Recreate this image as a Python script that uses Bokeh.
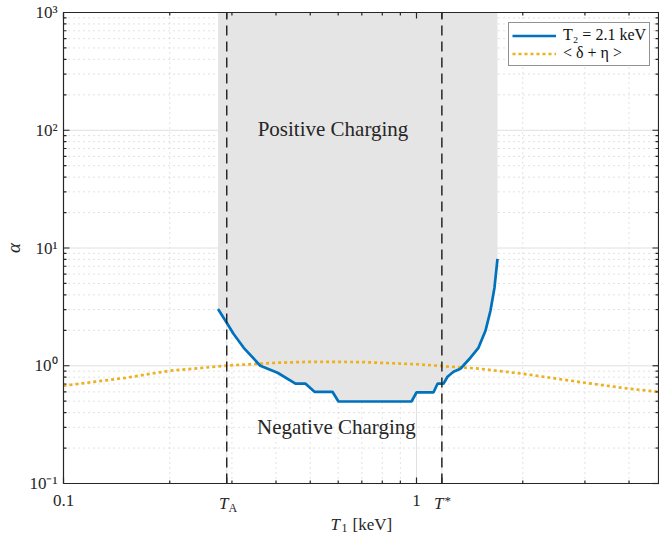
import math
from bokeh.plotting import figure
from bokeh.models import Legend, LegendItem, Range1d
from bokeh.core.properties import value
from bokeh.embed import file_html
from bokeh.resources import INLINE

# ---------------- data ----------------
T_A = 0.29
T_STAR = 1.18

t1_curve = [0.274, 0.290, 0.303, 0.324, 0.361, 0.404, 0.454, 0.485, 0.514, 0.578,
            0.601, 0.968, 1.000, 1.117, 1.147, 1.193, 1.224, 1.273, 1.332, 1.422,
            1.498, 1.568, 1.620, 1.663, 1.696]
alpha_curve = [3.03, 2.32, 1.87, 1.42, 1.00, 0.872, 0.704, 0.704, 0.601, 0.601,
               0.497, 0.497, 0.593, 0.593, 0.704, 0.704, 0.806, 0.889, 0.943, 1.17,
               1.42, 1.98, 2.93, 4.60, 8.10]

t1_avg = [0.1, 0.15, 0.2, 0.3, 0.4, 0.5, 0.7, 1.0, 1.5, 2.0, 3.0, 4.0, 5.0]
avg_de = [0.676, 0.79, 0.907, 1.01, 1.06, 1.08, 1.075, 1.03, 0.945, 0.855, 0.717, 0.638, 0.595]

x_major = [0.1, T_A, 1.0, T_STAR]
x_minor = [0.2, 0.3, 0.4, 0.5, 0.6, 0.7, 0.8, 0.9, 2.0, 3.0, 4.0]
x_tick_values = [0.1, 1.0]
x_tick_labels = ["0.1", "1"]
y_major = [0.1, 1.0, 10.0, 100.0, 1000.0]
y_minor = [m * 10.0 ** e for e in range(-1, 3) for m in range(2, 10)]
y_tick_labels = ["10⁻¹", "10⁰", "10¹", "10²", "10³"]

legend_labels = ["T₂ = 2.1 keV", "< δ + η >"]
region_labels = ["Positive Charging", "Negative Charging"]

Y_MIN, Y_MAX = 0.1, 1000.0

# ---------------- geometry (canvas pixels) ----------------
W, H = 659, 533
BOX_L, BOX_R, BOX_T, BOX_B = 63, 658, 12, 483
XDEC = 353.0
YDEC = (BOX_B - BOX_T) / 4.0

def x_at(px):
    return 10 ** (-1 + (px - BOX_L) / XDEC)

def y_at(py):
    return 10 ** (-1 + (BOX_B - py) / YDEC)

X_MAX = x_at(BOX_R)

SERIF = "Liberation Serif"
DARK = "#262626"

p = figure(width=W, height=H, x_axis_type="log", y_axis_type="log",
           x_range=Range1d(x_at(0), x_at(W)), y_range=Range1d(y_at(H), y_at(0)),
           x_axis_location=None, y_axis_location=None,
           output_backend="svg", toolbar_location=None,
           min_border=0, min_border_left=0, min_border_right=0,
           min_border_top=0, min_border_bottom=0)
p.outline_line_color = None
p.background_fill_color = "white"
p.border_fill_color = "white"
p.xgrid.visible = False
p.ygrid.visible = False

def vlines(xs, **kw):
    n = len(xs)
    p.segment(x0=xs, y0=[Y_MIN] * n, x1=xs, y1=[Y_MAX] * n, **kw)

def hlines(ys, **kw):
    n = len(ys)
    p.segment(x0=[0.1] * n, y0=ys, x1=[X_MAX] * n, y1=ys, **kw)

# grid
MINOR = dict(line_color="#c4c4c4", line_width=1, line_dash="1 4")
MAJOR = dict(line_color="#e0e0e0", line_width=1)
vlines(x_minor, **MINOR)
hlines([v for v in y_minor], **MINOR)
vlines([T_A, 1.0, T_STAR], **MAJOR)
hlines([1.0, 10.0, 100.0], **MAJOR)

# shaded positive-charging region (above the curve)
shade_x = t1_curve + [t1_curve[-1], t1_curve[0]]
shade_y = alpha_curve + [Y_MAX, Y_MAX]
p.patch(shade_x, shade_y, fill_color="#e5e5e5", line_color=None)

r_avg = p.line(t1_avg, avg_de, line_color="#EDB120", line_width=2.7, line_dash="3 3")
r_t2 = p.line(t1_curve, alpha_curve, line_color="#0072BD", line_width=2.7)

# dashed T_A / T* markers
vlines([T_A, T_STAR], line_color=DARK, line_width=1.5, line_dash="10 6")

# box
p.line([0.1, X_MAX, X_MAX, 0.1, 0.1], [Y_MIN, Y_MIN, Y_MAX, Y_MAX, Y_MIN],
       line_color=DARK, line_width=1.2, line_join="miter")

# inward ticks on all four sides
def xticks(vals, length):
    n = len(vals)
    f = 10 ** (length / YDEC)
    p.segment(x0=vals, y0=[Y_MIN] * n, x1=vals, y1=[Y_MIN * f] * n, line_color=DARK, line_width=1.2)
    p.segment(x0=vals, y0=[Y_MAX] * n, x1=vals, y1=[Y_MAX / f] * n, line_color=DARK, line_width=1.2)

def yticks(vals, length):
    n = len(vals)
    f = 10 ** (length / XDEC)
    p.segment(x0=[0.1] * n, y0=vals, x1=[0.1 * f] * n, y1=vals, line_color=DARK, line_width=1.2)
    p.segment(x0=[X_MAX] * n, y0=vals, x1=[X_MAX / f] * n, y1=vals, line_color=DARK, line_width=1.2)

xticks(x_major, 6)
xticks(x_minor, 3)
yticks(y_major, 6)
yticks(y_minor, 3)

def txt(xs, ys, texts, size, italic=False, align="left", baseline="alphabetic", angle=0.0):
    p.text(x=xs, y=ys, text=texts, text_font=value(SERIF), text_font_size=value(size),
           text_font_style="italic" if italic else "normal", text_align=align,
           text_baseline=baseline, text_color=DARK, angle=angle)

# tick labels
txt([x_at(57)] * len(y_major), y_major, y_tick_labels, "17px", align="right", baseline="middle")
txt(x_tick_values, [y_at(500)] * len(x_tick_values), x_tick_labels, "17px", align="center")

# T_A and T* tick labels
txt([x_at(228)], [y_at(503)], ["T"], "17px", italic=True, align="right")
txt([x_at(228)], [y_at(507)], ["A"], "12px")
txt([x_at(443)], [y_at(503)], ["T"], "17px", italic=True, align="right")
txt([x_at(444)], [y_at(500)], ["*"], "13px")

# x axis title  T1 [keV]
txt([x_at(330)], [y_at(524)], ["T"], "17px", italic=True)
txt([x_at(341)], [y_at(527)], ["1"], "12px")
txt([x_at(352)], [y_at(524)], ["[keV]"], "17px")

# y axis title alpha
txt([x_at(13)], [10.0], ["α"], "19px", italic=True, align="center", baseline="middle",
    angle=math.pi / 2)

# region annotations
txt([0.58, 0.593], [103.0, 0.303], region_labels, "21px", align="center", baseline="middle")

legend = Legend(items=[LegendItem(label=legend_labels[0], renderers=[r_t2]),
                       LegendItem(label=legend_labels[1], renderers=[r_avg])],
                location=(508, H - 66))
legend.label_text_font = SERIF
legend.label_text_font_size = "16px"
legend.label_text_color = "#111111"
legend.border_line_color = DARK
legend.border_line_width = 1
legend.background_fill_alpha = 1
legend.glyph_width = 44
legend.glyph_height = 15
legend.label_height = 15
legend.padding = 3
legend.spacing = 0
legend.margin = 0
legend.label_standoff = 7
p.add_layout(legend)

open("out.html", "w").write(file_html(p, INLINE))
